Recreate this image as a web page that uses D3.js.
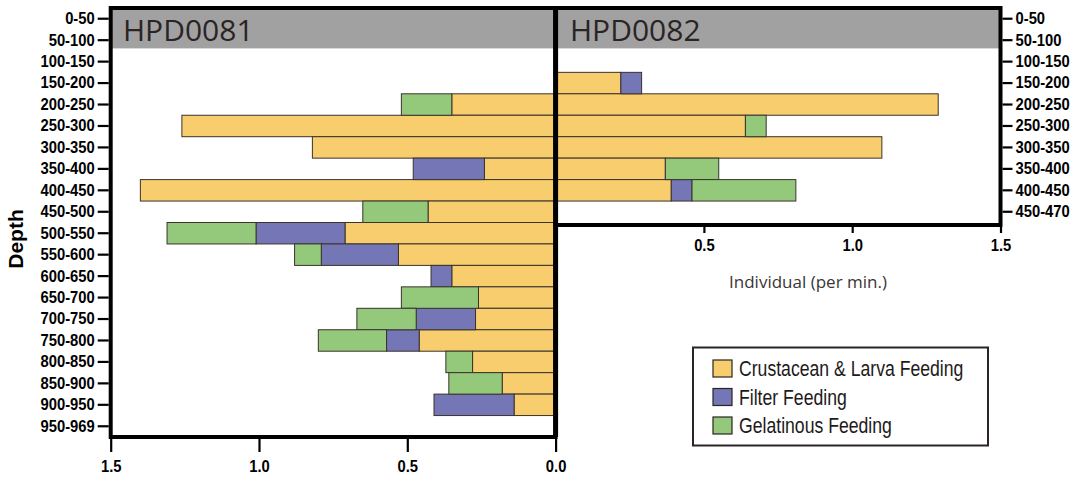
<!DOCTYPE html>
<html>
<head>
<meta charset="utf-8">
<script src="https://cdn.jsdelivr.net/npm/d3@7"></script>
<style>
  html, body { margin: 0; padding: 0; background: #fff; }
  svg { display: block; }
</style>
</head>
<body>
<svg id="chart" width="1080" height="484"></svg>
<script>
// Depth bins (m) for each dive
const depthsA = ["0-50","50-100","100-150","150-200","200-250","250-300","300-350","350-400","400-450","450-500",
                 "500-550","550-600","600-650","650-700","700-750","750-800","800-850","850-900","900-950","950-969"];
const depthsB = ["0-50","50-100","100-150","150-200","200-250","250-300","300-350","350-400","400-450","450-470"];

// HPD0081 — individuals per minute by feeding type
const crustA  = [0,0,0,0,0.35,1.26,0.82,0.24,1.40,0.43,0.71,0.53,0.35,0.26,0.27,0.46,0.28,0.18,0.14,0];
const filterA = [0,0,0,0,0,0,0,0.24,0,0,0.30,0.26,0.07,0,0.20,0.11,0,0,0.27,0];
const gelA    = [0,0,0,0,0.17,0,0,0,0,0.22,0.30,0.09,0,0.26,0.20,0.23,0.09,0.18,0,0];

// HPD0082 — individuals per minute by feeding type
const crustB  = [0,0,0,0.22,1.29,0.64,1.10,0.37,0.39,0];
const filterB = [0,0,0,0.07,0,0,0,0,0.07,0];
const gelB    = [0,0,0,0,0,0.07,0,0.18,0.35,0];

const xTicks = [0, 0.5, 1.0, 1.5];
const seriesNames = ["Crustacean & Larva Feeding", "Filter Feeding", "Gelatinous Feeding"];
const seriesKeys = ["crust", "filter", "gel"];
const seriesColors = ["#f8cd6d", "#7476b6", "#94c97b"];
const panelTitles = ["HPD0081", "HPD0082"];

const svg = d3.select("#chart");
const tickFont = "'Liberation Sans', Arial, sans-serif";
const titleFont = "'Open Sans', 'Noto Sans', sans-serif";

const x0 = 555.6, xLeftEnd = 110.7, xRightEnd = 1000.5;
const plotTop = 8, bottomA = 437;
const step = (bottomA - plotTop) / depthsA.length;

const xA = d3.scaleLinear().domain([0, 1.5]).range([x0, xLeftEnd]);
const xB = d3.scaleLinear().domain([0, 1.5]).range([x0, xRightEnd]);
const yA = d3.scaleBand().domain(depthsA).range([plotTop, bottomA]).padding(0);
const yB = d3.scaleBand().domain(depthsB).range([plotTop, plotTop + step * depthsB.length]).padding(0);
const bottomB = plotTop + step * depthsB.length + 2.5;

const color = d3.scaleOrdinal().domain(seriesKeys).range(seriesColors);

// Squeeze a text element horizontally around its anchor point (condensed look)
function condense(sel, k) {
  sel.each(function () {
    const t = d3.select(this);
    const x = +t.attr("x") || 0;
    const y = t.attr("y");
    t.attr("x", x / k).attr("transform", `scale(${k},1)`);
    if (y != null) t.attr("y", y);
  });
}

function rows(depths, c, f, g) {
  return depths.map((d, i) => ({ depth: d, crust: c[i], filter: f[i], gel: g[i] }));
}
const stack = d3.stack().keys(seriesKeys);

// Gray header band across both panels (first two depth bins)
const headerBottom = yA("100-150") - 2.5;
svg.append("rect").attr("x", xLeftEnd).attr("y", plotTop).attr("width", xRightEnd - xLeftEnd)
  .attr("height", headerBottom - plotTop).attr("fill", "#a1a1a1");

svg.append("text").attr("x", 123).attr("y", 41).text(panelTitles[0])
  .attr("font-family", titleFont).attr("font-size", 30).attr("fill", "#2b2424");
svg.append("text").attr("x", 570).attr("y", 41).text(panelTitles[1])
  .attr("font-family", titleFont).attr("font-size", 30).attr("fill", "#2b2424");

function drawBars(data, x, y, flip) {
  const layers = stack(data);
  const g = svg.append("g");
  layers.forEach(layer => {
    g.selectAll(null)
      .data(layer.filter(d => d[1] - d[0] > 0.0001))
      .join("rect")
      .attr("x", d => flip ? x(d[1]) : x(d[0]))
      .attr("width", d => Math.abs(x(d[1]) - x(d[0])))
      .attr("y", d => y(d.data.depth))
      .attr("height", y.bandwidth())
      .attr("fill", color(layer.key))
      .attr("stroke", "#3a332c")
      .attr("stroke-width", 1);
  });
}
drawBars(rows(depthsA, crustA, filterA, gelA), xA, yA, true);
drawBars(rows(depthsB, crustB, filterB, gelB), xB, yB, false);

// Panel frames
const frame = svg.append("g").attr("fill", "none").attr("stroke", "#000").attr("stroke-width", 4);
frame.append("rect").attr("x", xLeftEnd).attr("y", plotTop).attr("width", x0 - xLeftEnd).attr("height", bottomA - plotTop);
frame.append("path").attr("d", `M${x0},${plotTop}H${xRightEnd}V${bottomB}H${x0}`);
svg.append("line").attr("x1", x0).attr("x2", x0).attr("y1", plotTop - 1).attr("y2", bottomA)
  .attr("stroke", "#000").attr("stroke-width", 5);

function styleAxis(g, size) {
  g.select(".domain").remove();
  g.selectAll(".tick line").attr("stroke", "#000").attr("stroke-width", 2.2);
  g.selectAll(".tick text").attr("font-family", tickFont).attr("font-weight", "bold")
    .attr("font-size", size).attr("fill", "#000")
    .call(condense, 0.88);
}

// Depth axes
svg.append("g").attr("transform", `translate(${xLeftEnd - 2},0)`)
  .call(d3.axisLeft(yA).tickSize(11).tickPadding(3))
  .call(g => styleAxis(g, 16.8));
svg.append("g").attr("transform", `translate(${xRightEnd + 2},0)`)
  .call(d3.axisRight(yB).tickSize(10).tickPadding(3))
  .call(g => styleAxis(g, 16.8));

// Value axes
svg.append("g").attr("transform", `translate(0,${bottomA + 2})`)
  .call(d3.axisBottom(xA).tickValues(xTicks).tickFormat(d3.format(".1f")).tickSize(13).tickPadding(8))
  .call(g => styleAxis(g, 16.8));
svg.append("g").attr("transform", `translate(0,${bottomB + 2})`)
  .call(d3.axisBottom(xB).tickValues(xTicks.slice(1)).tickFormat(d3.format(".1f")).tickSize(6).tickPadding(6))
  .call(g => styleAxis(g, 16.8));

svg.append("text").attr("transform", "translate(23,239) rotate(-90)").attr("text-anchor", "middle")
  .text("Depth").attr("font-family", tickFont).attr("font-weight", "bold").attr("font-size", 21).attr("fill", "#000");

svg.append("text").attr("x", 808).attr("y", 288).attr("text-anchor", "middle")
  .text("Individual (per min.)").attr("font-family", titleFont).attr("font-size", 17).attr("fill", "#3a3535");

// Legend
const legend = svg.append("g");
legend.append("rect").attr("x", 693).attr("y", 347.5).attr("width", 295).attr("height", 98)
  .attr("fill", "#fff").attr("stroke", "#2b2424").attr("stroke-width", 2);
seriesKeys.forEach((k, i) => {
  const yy = 360 + i * 28.5;
  legend.append("rect").attr("x", 713).attr("y", yy).attr("width", 19).attr("height", 17)
    .attr("fill", color(k)).attr("stroke", "#2b2424").attr("stroke-width", 1.2);
  legend.append("text").attr("x", 739).attr("y", yy + 16.5).text(seriesNames[i])
    .attr("font-family", tickFont).attr("font-size", 21.5).attr("fill", "#1e1a1a")
    .call(condense, 0.82);
});
</script>
</body>
</html>
